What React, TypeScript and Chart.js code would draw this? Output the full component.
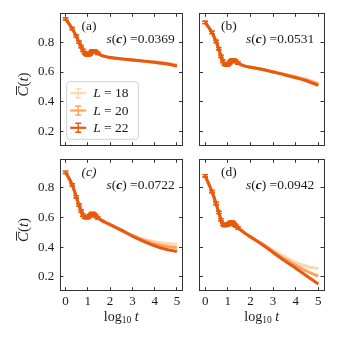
import React, { useEffect, useRef } from "react";
import { Chart, registerables } from "chart.js";
Chart.register(...registerables);

// ---------------- data ----------------
const X_VALUES = [0, 0.3, 0.48, 0.6, 0.7, 0.78, 0.85, 0.9, 0.95, 1.0, 1.04, 1.08, 1.11, 1.15, 1.18, 1.2, 1.23, 1.26, 1.3, 1.36, 1.45, 1.6, 1.8, 2.0, 2.5, 3.0, 3.5, 4.0, 4.5, 5.0];
// error half-widths for the early (sparse-time) points
const ERR = [0.008, 0.008, 0.008, 0.008, 0.008, 0.008, 0.008, 0.008, 0.008, 0.008, 0.008, 0.008, 0.008, 0.008, 0.008, 0.008, 0.008, 0.008, 0.008, 0.008, 0.008];
const X_TICKS = [0, 1, 2, 3, 4, 5];
const Y_TICKS = [0.2, 0.4, 0.6, 0.8];
const SIZES = ["18", "20", "22"];
const COLORS = ["#fdd6b3", "#fba35e", "#e8580e"];
const PANEL_LABELS = ["(a)", "(b)", "(c)", "(d)"];
const S_VALUES = ["0.0369", "0.0531", "0.0722", "0.0942"];

const A_L18 = [0.955, 0.89, 0.84, 0.80, 0.77, 0.745, 0.73, 0.722, 0.717, 0.715, 0.716, 0.72, 0.725, 0.731, 0.736, 0.739, 0.741, 0.742, 0.741, 0.735, 0.725, 0.712, 0.703, 0.697, 0.688, 0.681, 0.674, 0.668, 0.660, 0.649];
const A_L20 = [0.955, 0.89, 0.84, 0.80, 0.77, 0.745, 0.73, 0.722, 0.717, 0.715, 0.716, 0.72, 0.725, 0.731, 0.736, 0.739, 0.741, 0.742, 0.741, 0.735, 0.725, 0.712, 0.703, 0.697, 0.688, 0.680, 0.673, 0.666, 0.657, 0.644];
const A_L22 = [0.955, 0.89, 0.84, 0.80, 0.77, 0.745, 0.73, 0.722, 0.717, 0.715, 0.716, 0.72, 0.725, 0.731, 0.736, 0.739, 0.741, 0.742, 0.741, 0.735, 0.725, 0.712, 0.703, 0.697, 0.688, 0.680, 0.673, 0.665, 0.655, 0.640];

const B_L18 = [0.932, 0.865, 0.805, 0.755, 0.705, 0.672, 0.655, 0.65, 0.648, 0.65, 0.655, 0.662, 0.668, 0.674, 0.678, 0.68, 0.681, 0.68, 0.677, 0.67, 0.66, 0.648, 0.638, 0.632, 0.619, 0.602, 0.586, 0.569, 0.550, 0.526];
const B_L20 = [0.932, 0.865, 0.805, 0.755, 0.705, 0.672, 0.655, 0.65, 0.648, 0.65, 0.655, 0.662, 0.668, 0.674, 0.678, 0.68, 0.681, 0.68, 0.677, 0.67, 0.66, 0.648, 0.638, 0.632, 0.618, 0.601, 0.583, 0.565, 0.545, 0.518];
const B_L22 = [0.932, 0.865, 0.805, 0.755, 0.705, 0.672, 0.655, 0.65, 0.648, 0.65, 0.655, 0.662, 0.668, 0.674, 0.678, 0.68, 0.681, 0.68, 0.677, 0.67, 0.66, 0.648, 0.638, 0.632, 0.618, 0.600, 0.582, 0.562, 0.540, 0.510];

const C_L18 = [0.905, 0.82, 0.74, 0.685, 0.645, 0.617, 0.605, 0.601, 0.600, 0.602, 0.606, 0.612, 0.617, 0.622, 0.625, 0.626, 0.626, 0.624, 0.619, 0.609, 0.597, 0.583, 0.567, 0.553, 0.517, 0.481, 0.455, 0.437, 0.425, 0.420];
const C_L20 = [0.905, 0.82, 0.74, 0.685, 0.645, 0.617, 0.605, 0.601, 0.600, 0.602, 0.606, 0.612, 0.617, 0.622, 0.625, 0.626, 0.626, 0.624, 0.619, 0.609, 0.597, 0.583, 0.567, 0.553, 0.516, 0.478, 0.447, 0.423, 0.407, 0.398];
const C_L22 = [0.905, 0.82, 0.74, 0.685, 0.645, 0.617, 0.605, 0.601, 0.600, 0.602, 0.606, 0.612, 0.617, 0.622, 0.625, 0.626, 0.626, 0.624, 0.619, 0.609, 0.597, 0.583, 0.567, 0.553, 0.515, 0.475, 0.440, 0.410, 0.387, 0.372];

const D_L18 = [0.882, 0.775, 0.695, 0.635, 0.585, 0.555, 0.548, 0.547, 0.549, 0.553, 0.558, 0.563, 0.566, 0.568, 0.568, 0.567, 0.564, 0.558, 0.551, 0.542, 0.53, 0.513, 0.49, 0.47, 0.426, 0.380, 0.337, 0.298, 0.270, 0.256];
const D_L20 = [0.882, 0.775, 0.695, 0.635, 0.585, 0.555, 0.548, 0.547, 0.549, 0.553, 0.558, 0.563, 0.566, 0.568, 0.568, 0.567, 0.564, 0.558, 0.551, 0.542, 0.53, 0.513, 0.49, 0.47, 0.423, 0.372, 0.322, 0.278, 0.238, 0.205];
const D_L22 = [0.882, 0.775, 0.695, 0.635, 0.585, 0.555, 0.548, 0.547, 0.549, 0.553, 0.558, 0.563, 0.566, 0.568, 0.568, 0.567, 0.564, 0.558, 0.551, 0.542, 0.53, 0.513, 0.49, 0.47, 0.420, 0.365, 0.310, 0.258, 0.205, 0.152];

const PANEL_SERIES = [
  [A_L18, A_L20, A_L22],
  [B_L18, B_L20, B_L22],
  [C_L18, C_L20, C_L22],
  [D_L18, D_L20, D_L22],
];

// ---------------- layout / style ----------------
const W = 338;
const H = 338;
const BOXES = [
  { l: 60, t: 13.3, w: 122.5, h: 132.4 },
  { l: 199.5, t: 13.3, w: 124.5, h: 132.4 },
  { l: 60, t: 159.3, w: 122.5, h: 131.4 },
  { l: 199.5, t: 159.3, w: 124.5, h: 131.4 },
];
const FAMILY = "'Liberation Serif', 'DejaVu Serif', serif";
const TEXT = "#1a1a1a";
const AXIS = "#333";
const X_MIN = -0.25, X_MAX = 5.25;
const Y_MIN = 0.107, Y_MAX = 0.993;
const Y_AXIS_W = 50;
const X_AXIS_H = 25;
const TICK_FONT = 13;
const ANN_FONT = 13.5;

type Part = { t: string; italic?: boolean; bold?: boolean; size?: number; dy?: number; overline?: boolean };

function font(p: Part, base: number) {
  return `${p.italic ? "italic " : ""}${p.bold ? "bold " : ""}${p.size ?? base}px ${FAMILY}`;
}

function drawRich(ctx: CanvasRenderingContext2D, parts: Part[], x: number, y: number, base: number, align: "left" | "center") {
  ctx.save();
  ctx.textBaseline = "middle";
  ctx.textAlign = "left";
  let total = 0;
  const widths = parts.map((p) => {
    ctx.font = font(p, base);
    const w = ctx.measureText(p.t).width;
    total += w;
    return w;
  });
  let cx = align === "center" ? x - total / 2 : x;
  parts.forEach((p, i) => {
    ctx.font = font(p, base);
    ctx.fillText(p.t, cx, y + (p.dy ?? 0));
    if (p.overline) {
      const sz = p.size ?? base;
      const oy = y - sz * 0.5;
      ctx.save();
      ctx.strokeStyle = ctx.fillStyle as string;
      ctx.lineWidth = 0.9;
      ctx.beginPath();
      ctx.moveTo(cx + 1.5, oy);
      ctx.lineTo(cx + widths[i] + 0.5, oy);
      ctx.stroke();
      ctx.restore();
    }
    cx += widths[i];
  });
  ctx.restore();
}

function makeErrorPlugin() {
  return {
    id: "errbars",
    afterDatasetDraw(chart: any, args: any) {
      const ds = chart.data.datasets[args.index];
      const xs = chart.scales.x;
      const ys = chart.scales.y;
      const ctx = chart.ctx as CanvasRenderingContext2D;
      ctx.save();
      ctx.strokeStyle = ds.borderColor;
      ctx.lineWidth = 1.4;
      for (let j = 0; j < ERR.length; j++) {
        const pt = ds.data[j];
        const px = xs.getPixelForValue(pt.x);
        const y1 = ys.getPixelForValue(pt.y - ERR[j]);
        const y2 = ys.getPixelForValue(pt.y + ERR[j]);
        ctx.beginPath();
        ctx.moveTo(px, y1);
        ctx.lineTo(px, y2);
        ctx.moveTo(px - 2.8, y1);
        ctx.lineTo(px + 2.8, y1);
        ctx.moveTo(px - 2.8, y2);
        ctx.lineTo(px + 2.8, y2);
        ctx.stroke();
      }
      ctx.restore();
    },
  };
}

function makeTextPlugin(idx: number) {
  return {
    id: "texts" + idx,
    afterDraw(chart: any) {
      const ctx = chart.ctx as CanvasRenderingContext2D;
      const a = chart.chartArea;
      ctx.save();
      ctx.fillStyle = TEXT;
      drawRich(ctx, [{ t: PANEL_LABELS[idx], italic: idx === 2 }], a.left + 21.5, a.top + 13.5, ANN_FONT, "left");
      drawRich(
        ctx,
        [
          { t: "s", italic: true },
          { t: "(" },
          { t: "c", italic: true, bold: true },
          { t: ")" },
          { t: " =" + S_VALUES[idx] },
        ],
        a.left + 46.5,
        a.top + 26,
        ANN_FONT,
        "left"
      );
      if (idx % 2 === 0) {
        ctx.save();
        ctx.translate(24, (a.top + a.bottom) / 2 + 5);
        ctx.rotate(-Math.PI / 2);
        drawRich(
          ctx,
          [{ t: "C", italic: true, overline: true }, { t: "(" }, { t: "t", italic: true }, { t: ")" }],
          0,
          0,
          15,
          "center"
        );
        ctx.restore();
      }
      if (idx >= 2) {
        drawRich(
          ctx,
          [{ t: "log" }, { t: "10", size: 9.5, dy: 3.5 }, { t: " " }, { t: "t", italic: true }],
          (a.left + a.right) / 2,
          317,
          14,
          "center"
        );
      }
      if (idx === 0) {
        const bx = a.left + 6.7;
        const bw = 71.6;
        const bh = 57.6;
        const by = a.bottom - 6.4 - bh;
        ctx.save();
        ctx.beginPath();
        ctx.roundRect(bx, by, bw, bh, 3);
        ctx.fillStyle = "rgba(255,255,255,0.85)";
        ctx.fill();
        ctx.strokeStyle = "#d0d0d0";
        ctx.lineWidth = 1;
        ctx.stroke();
        ctx.restore();
        SIZES.forEach((s, i) => {
          const ry = by + 11.5 + i * 17.3;
          ctx.save();
          ctx.strokeStyle = COLORS[i];
          ctx.lineWidth = 2.2;
          ctx.beginPath();
          ctx.moveTo(bx + 3.5, ry);
          ctx.lineTo(bx + 19.5, ry);
          ctx.stroke();
          ctx.lineWidth = 1.4;
          const cx = bx + 11.5;
          ctx.beginPath();
          ctx.moveTo(cx, ry - 4.5);
          ctx.lineTo(cx, ry + 4.5);
          ctx.moveTo(cx - 3, ry - 4.5);
          ctx.lineTo(cx + 3, ry - 4.5);
          ctx.moveTo(cx - 3, ry + 4.5);
          ctx.lineTo(cx + 3, ry + 4.5);
          ctx.stroke();
          ctx.restore();
          ctx.fillStyle = TEXT;
          drawRich(ctx, [{ t: "L", italic: true }, { t: " = " + s }], bx + 26.5, ry + 0.5, 13.5, "left");
        });
      }
      ctx.restore();
    },
  };
}

function axisCommon(showLabels: boolean, isX: boolean, size: number) {
  return {
    type: "linear" as const,
    min: isX ? X_MIN : Y_MIN,
    max: isX ? X_MAX : Y_MAX,
    afterBuildTicks: (s: any) => {
      s.ticks = (isX ? X_TICKS : Y_TICKS).map((v) => ({ value: v }));
    },
    afterFit: (s: any) => {
      if (isX) s.height = size;
      else s.width = size;
      s.paddingLeft = 0;
      s.paddingRight = 0;
      s.paddingTop = 0;
      s.paddingBottom = 0;
    },
    grid: {
      display: true,
      drawOnChartArea: false,
      drawTicks: true,
      tickLength: -3.5,
      color: AXIS,
      tickWidth: 1,
    },
    border: { display: true, color: AXIS, width: 1 },
    ticks: {
      display: showLabels,
      autoSkip: false,
      maxRotation: 0,
      color: TEXT,
      font: { family: FAMILY, size: TICK_FONT },
      padding: isX ? 6.5 : 9.2,
      callback: (v: any) => (isX ? String(v) : Number(v).toFixed(1)),
    },
  };
}

function makeConfig(idx: number): any {
  const b = BOXES[idx];
  const series = PANEL_SERIES[idx];
  const bottomRow = idx >= 2;
  const leftCol = idx % 2 === 0;
  return {
    type: "line",
    data: {
      datasets: series.map((ys, i) => ({
        label: "L = " + SIZES[i],
        data: X_VALUES.map((x, j) => ({ x, y: ys[j] })),
        borderColor: COLORS[i],
        backgroundColor: COLORS[i],
        borderWidth: 3,
        pointRadius: 0,
        cubicInterpolationMode: "monotone",
        fill: false,
        order: SIZES.length - i,
      })),
    },
    options: {
      responsive: false,
      animation: false,
      devicePixelRatio: 1,
      events: [],
      layout: {
        padding: {
          left: b.l - Y_AXIS_W,
          right: W - (b.l + b.w) - 2,
          top: b.t - 2,
          bottom: H - (b.t + b.h) - X_AXIS_H,
        },
      },
      plugins: { legend: { display: false }, tooltip: { enabled: false }, title: { display: false } },
      scales: {
        x: { ...axisCommon(bottomRow, true, X_AXIS_H), position: "bottom" },
        x2: { ...axisCommon(false, true, 2), position: "top" },
        y: { ...axisCommon(leftCol, false, Y_AXIS_W), position: "left" },
        y2: { ...axisCommon(false, false, 2), position: "right" },
      },
    },
    plugins: [makeErrorPlugin(), makeTextPlugin(idx)],
  };
}

function Panel({ idx }: { idx: number }) {
  const ref = useRef<HTMLCanvasElement>(null);
  useEffect(() => {
    const chart = new Chart(ref.current as HTMLCanvasElement, makeConfig(idx));
    return () => chart.destroy();
  }, [idx]);
  return (
    <canvas
      ref={ref}
      width={W}
      height={H}
      style={{ position: "absolute", left: 0, top: 0, width: W, height: H }}
    />
  );
}

export default function App() {
  return (
    <div style={{ position: "absolute", left: 0, top: 0, width: W, height: H, background: "#fff", overflow: "hidden" }}>
      {[0, 1, 2, 3].map((i) => (
        <Panel key={i} idx={i} />
      ))}
    </div>
  );
}
